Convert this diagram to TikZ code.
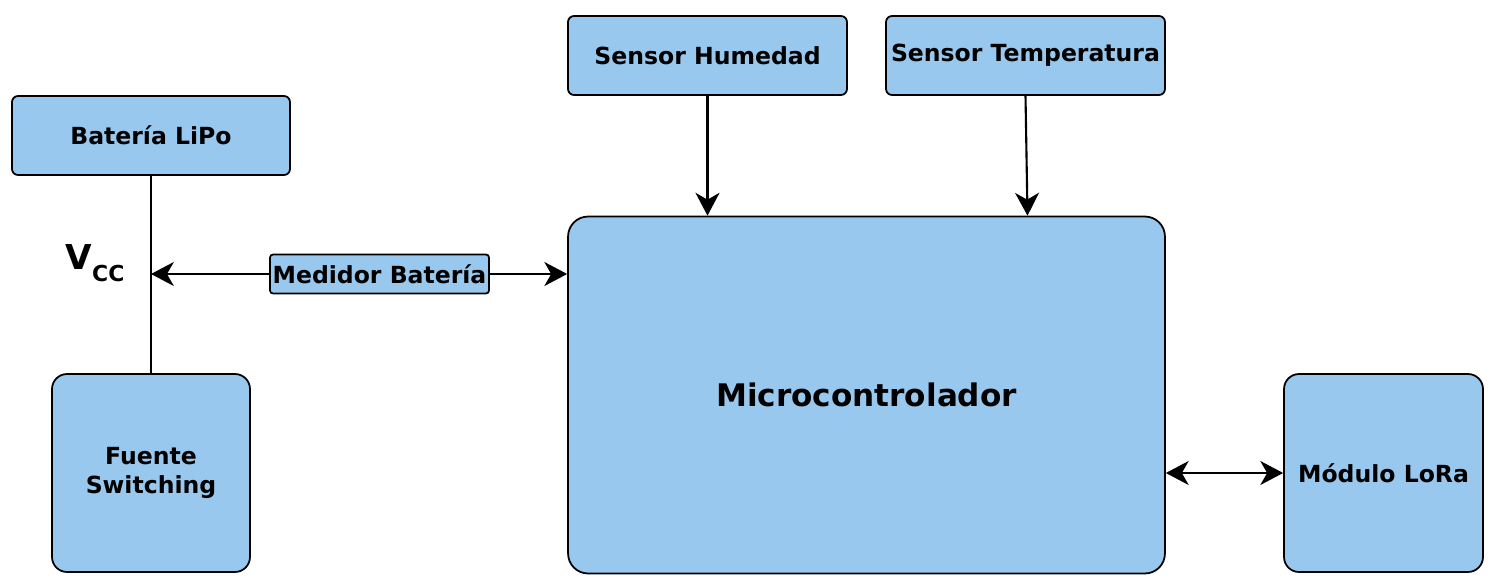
\documentclass[tikz,border=0pt]{standalone}
\usepackage{fontspec}
\setmainfont{DejaVu Sans}
\usetikzlibrary{arrows.meta}
\usetikzlibrary{positioning}
\definecolor{boxblue}{RGB}{153,200,238}

\begin{document}
\begin{tikzpicture}[x=0.02cm,y=-0.02cm,
	block/.style={rectangle,draw,fill=boxblue,line width=1pt,rounded corners=0.12cm,
		align=center,font=\fontsize{13.4}{16}\selectfont\bfseries,inner sep=0pt},
	link/.style={line width=1.2pt},
	tip/.tip={Stealth[length=10pt,width=10.5pt,inset=3pt,scale=1.3]},
	arr/.style={link,-tip}]
	\useasboundingbox (0,0) rectangle (1503,585);
	\node[block,minimum width=5.56cm,minimum height=1.58cm] (Bateria) at (151,135.5) {Batería LiPo};
	\node[block,minimum width=5.58cm,minimum height=1.58cm] (Humedad) at (707.5,55.5) {Sensor Humedad};
	\node[block,minimum width=5.58cm,minimum height=1.58cm] (Temperatura) at (1025.5,55.5) {Sensor Temperatura};
	\node[block,minimum width=11.94cm,minimum height=7.14cm,rounded corners=0.4cm,
		font=\fontsize{17.7}{20}\selectfont\bfseries] (Micro) at (866.5,395) {Microcontrolador};
	\node[block,minimum width=3.96cm,minimum height=3.96cm,rounded corners=0.3cm] (Fuente) at (151,473) {Fuente\\Switching};
	\node[block,minimum width=3.98cm,minimum height=3.96cm,rounded corners=0.3cm] (LoRa) at (1383.5,473) {Módulo LoRa};
	\node[block,minimum width=4.38cm,minimum height=0.78cm,rounded corners=0.06cm] (Medidor) at (379.5,274) {Medidor Batería};
	\node[font=\bfseries] (Vcc) at (95,263) {\fontsize{19.5}{20}\selectfont V\raisebox{-0.35em}{\fontsize{12.5}{13}\selectfont CC}};
	\draw[link] (Bateria.south) -- (Fuente.north);
	\draw[arr] (Medidor.west) -- (Medidor.west -| Bateria.south);
	\draw[arr] (Medidor.east) -- (Medidor.east -| Micro.west);
	\draw[arr] (Humedad.south) -- (Humedad.south |- Micro.north);
	\draw[arr] (Temperatura.south) -- ([xshift=0.04cm]Temperatura.south |- Micro.north);
	\draw[link,tip-tip] (Micro.east |- LoRa.west) -- (LoRa.west);
\end{tikzpicture}
\end{document}
